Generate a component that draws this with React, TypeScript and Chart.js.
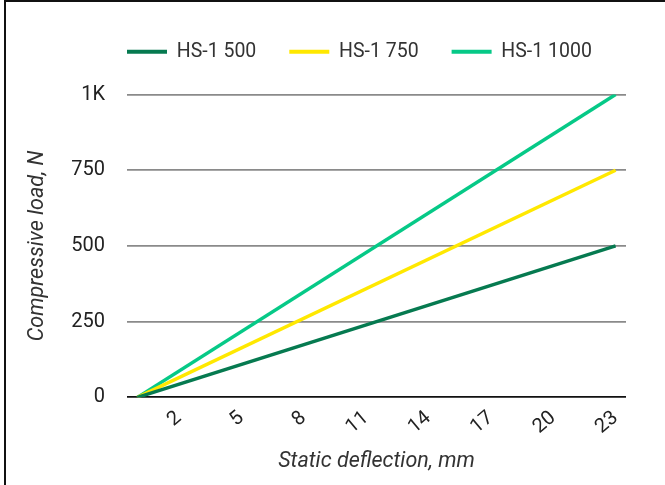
import React, { useEffect, useRef } from "react";
import { Chart, registerables } from "chart.js";

Chart.register(...registerables);

const deflection = [0, 23];
const hs500 = [0, 500];
const hs750 = [0, 750];
const hs1000 = [0, 1000];
const seriesNames = ["HS-1 500", "HS-1 750", "HS-1 1000"];
const seriesColors = ["#067a50", "#ffe800", "#06c987"];
const xTicks = [2, 5, 8, 11, 14, 17, 20, 23];
const yTicks = [0, 250, 500, 750, 1000];

const FONT = "Roboto";
const LEGEND_PAD = 33;

const legendTweak = {
  id: "legendTweak",
  beforeInit(chart: any) {
    const lg = chart.legend;
    if (lg && !lg.__patched) {
      const orig = lg.fit.bind(lg);
      lg.fit = function () {
        orig();
        this.height += 23;
      };
      lg.__patched = true;
    }
  },
  afterLayout(chart: any) {
    if (chart.legend) {
      chart.legend.left = chart.chartArea.left - LEGEND_PAD;
      chart.legend.right = 665;
    }
  },
};

export default function App() {
  const ref = useRef<HTMLCanvasElement | null>(null);
  useEffect(() => {
    if (!ref.current) return;
    const values = [hs500, hs750, hs1000];
    const chart = new Chart(ref.current, {
      type: "line",
      data: {
        datasets: values.map((v, i) => ({
          label: seriesNames[i],
          data: deflection.map((x, j) => ({ x, y: v[j] })),
          borderColor: seriesColors[i],
          backgroundColor: seriesColors[i],
          borderWidth: 3.5,
          pointRadius: 0,
          tension: 0,
        })),
      },
      plugins: [legendTweak],
      options: {
        animation: false,
        responsive: false,
        layout: { padding: { left: 4, right: 39, top: 9, bottom: 10 } },
        plugins: {
          tooltip: { enabled: false },
          legend: {
            position: "top",
            align: "start",
            labels: {
              font: { family: FONT, size: 19.5 },
              color: "#333",
              boxWidth: 40,
              boxHeight: 4,
              padding: LEGEND_PAD,
              generateLabels: (c: any) =>
                c.data.datasets.map((d: any, i: number) => ({
                  text: d.label as string,
                  fillStyle: seriesColors[i],
                  strokeStyle: seriesColors[i],
                  lineWidth: 0,
                  hidden: false,
                  datasetIndex: i,
                  fontColor: "#333",
                })),
            },
          },
        },
        scales: {
          x: {
            type: "linear",
            min: -0.5,
            max: 23.5,
            afterBuildTicks: (axis: any) => {
              axis.ticks = xTicks.map((v) => ({ value: v }));
            },
            afterFit: (axis: any) => {
              axis.paddingLeft = 0;
              axis.paddingRight = 0;
            },
            grid: { display: false, drawTicks: false },
            border: { display: false },
            ticks: {
              font: { family: FONT, size: 20 },
              color: "#222",
              minRotation: 40,
              maxRotation: 40,
              autoSkip: false,
              padding: 9,
            },
            title: {
              display: true,
              text: "Static deflection, mm",
              font: { family: FONT, size: 21.5, style: "italic" },
              color: "#333",
              padding: { top: 1, bottom: 0 },
            },
          },
          y: {
            min: 0,
            max: 1000,
            afterBuildTicks: (axis: any) => {
              axis.ticks = yTicks.map((v) => ({ value: v }));
            },
            afterFit: (axis: any) => {
              axis.width = 123;
            },
            grid: {
              drawTicks: false,
              lineWidth: 1.8,
              color: (ctx: any) => (ctx.tick && ctx.tick.value === 0 ? "#111" : "#8a8a8a"),
            },
            border: { display: false },
            ticks: {
              font: { family: FONT, size: 20 },
              color: "#222",
              padding: 22,
              callback: (v: any) => (v === 1000 ? "1K" : String(v)),
            },
            title: {
              display: true,
              text: "Compressive load, N",
              font: { family: FONT, size: 21.5, style: "italic" },
              color: "#333",
              padding: { top: 21, bottom: 18 },
            },
          },
        },
      },
    });
    return () => chart.destroy();
  }, []);
  return (
    <div style={{ position: "absolute", left: 0, top: 0, width: 665, height: 485, background: "#fff" }}>
      <div
        style={{
          position: "absolute",
          left: 4,
          top: 0,
          width: 700,
          height: 520,
          borderLeft: "2px solid #111",
          borderTop: "2px solid #111",
        }}
      />
      <canvas ref={ref} width={665} height={485} style={{ position: "absolute", left: 0, top: 0 }} />
    </div>
  );
}
